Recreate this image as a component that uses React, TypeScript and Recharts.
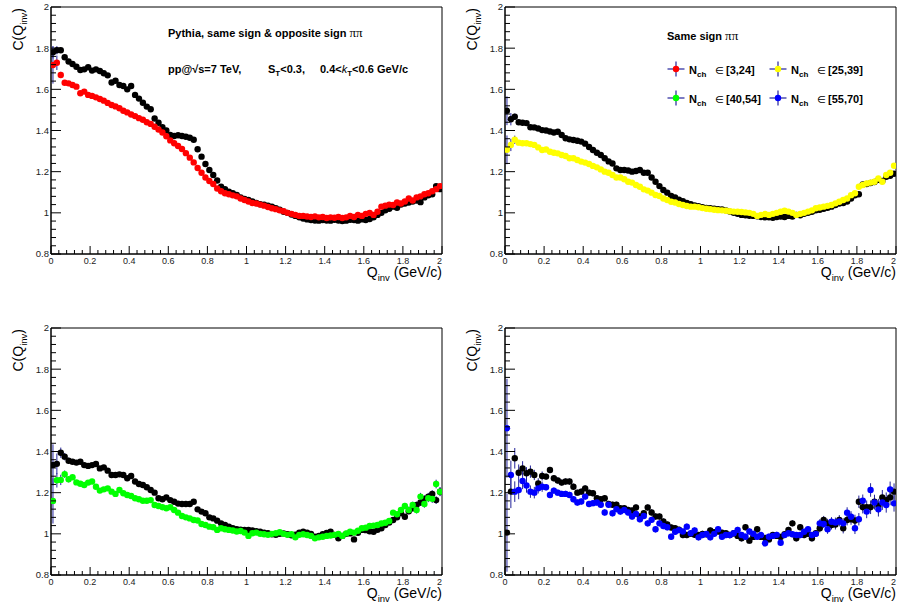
import React from 'react';
import { ScatterChart, Scatter, XAxis, YAxis, ErrorBar, ReferenceArea } from 'recharts';

const FONT = "'Liberation Sans', Arial, Helvetica, sans-serif";
const ERR_COLOR = '#23239a';

// bin centres of Q_inv (GeV/c)
const Q = [
  0.01, 0.03, 0.05, 0.07, 0.09, 0.11, 0.13, 0.15, 0.17, 0.19,
  0.21, 0.23, 0.25, 0.27, 0.29, 0.31, 0.33, 0.35, 0.37, 0.39,
  0.41, 0.43, 0.45, 0.47, 0.49, 0.51, 0.53, 0.55, 0.57, 0.59,
  0.61, 0.63, 0.65, 0.67, 0.69, 0.71, 0.73, 0.75, 0.77, 0.79,
  0.81, 0.83, 0.85, 0.87, 0.89, 0.91, 0.93, 0.95, 0.97, 0.99,
  1.01, 1.03, 1.05, 1.07, 1.09, 1.11, 1.13, 1.15, 1.17, 1.19,
  1.21, 1.23, 1.25, 1.27, 1.29, 1.31, 1.33, 1.35, 1.37, 1.39,
  1.41, 1.43, 1.45, 1.47, 1.49, 1.51, 1.53, 1.55, 1.57, 1.59,
  1.61, 1.63, 1.65, 1.67, 1.69, 1.71, 1.73, 1.75, 1.77, 1.79,
  1.81, 1.83, 1.85, 1.87, 1.89, 1.91, 1.93, 1.95, 1.97, 1.99,
];

const xMajorTicks = [0, 0.2, 0.4, 0.6, 0.8, 1, 1.2, 1.4, 1.6, 1.8, 2];
const yMajorTicks = [0.8, 1, 1.2, 1.4, 1.6, 1.8, 2];

// Top-left: opposite sign (black) vs same sign (red)
const tlBlack = [
  1.78, 1.79, 1.79, 1.756, 1.735, 1.723, 1.71, 1.694, 1.697, 1.707,
  1.691, 1.697, 1.689, 1.678, 1.668, 1.633, 1.642, 1.621, 1.616, 1.6,
  1.616, 1.573, 1.555, 1.535, 1.516, 1.503, 1.458, 1.438, 1.416, 1.4,
  1.378, 1.373, 1.377, 1.373, 1.37, 1.365, 1.355, 1.309, 1.273, 1.237,
  1.208, 1.184, 1.157, 1.127, 1.115, 1.103, 1.095, 1.087, 1.075, 1.068,
  1.062, 1.055, 1.048, 1.042, 1.04, 1.035, 1.03, 1.022, 1.015, 1.005,
  1.0, 0.992, 0.985, 0.978, 0.972, 0.968, 0.965, 0.963, 0.962, 0.965,
  0.963, 0.962, 0.966, 0.963, 0.96, 0.962, 0.966, 0.965, 0.962, 0.968,
  0.965, 0.97, 0.978, 0.99, 1.0, 1.012, 1.02, 1.03, 1.025, 1.04,
  1.045, 1.05, 1.055, 1.06, 1.052, 1.075, 1.085, 1.09, 1.13, 1.115,
];
const tlRed = [
  1.718, 1.729, 1.67, 1.632, 1.629, 1.621, 1.613, 1.581, 1.589, 1.573,
  1.568, 1.561, 1.553, 1.545, 1.534, 1.524, 1.517, 1.508, 1.496, 1.488,
  1.478, 1.47, 1.46, 1.452, 1.44, 1.432, 1.418, 1.405, 1.39, 1.372,
  1.352, 1.338, 1.325, 1.31, 1.29, 1.268, 1.245, 1.218, 1.195, 1.172,
  1.155, 1.14, 1.118, 1.105, 1.095, 1.09, 1.085, 1.08, 1.07, 1.062,
  1.055, 1.048, 1.045, 1.04, 1.035, 1.028, 1.022, 1.018, 1.012, 1.008,
  1.0, 0.995, 0.99, 0.985, 0.985, 0.982, 0.98, 0.983, 0.978, 0.98,
  0.975, 0.978, 0.976, 0.98, 0.975, 0.978, 0.985, 0.98, 0.99, 0.985,
  0.995, 1.0, 0.99, 1.005, 1.03, 1.035, 1.04, 1.038, 1.05, 1.045,
  1.055, 1.07, 1.06, 1.075, 1.08, 1.09, 1.095, 1.105, 1.115, 1.13,
];

// Top-right: black vs N_ch in [25,39] (yellow)
const trBlack = [
  1.496, 1.455, 1.467, 1.44, 1.438, 1.436, 1.416, 1.415, 1.41, 1.402,
  1.4, 1.395, 1.39, 1.394, 1.378, 1.362, 1.357, 1.354, 1.35, 1.346,
  1.336, 1.32, 1.305, 1.292, 1.281, 1.265, 1.25, 1.24, 1.216, 1.208,
  1.208, 1.206, 1.2, 1.203, 1.208, 1.195, 1.195, 1.172, 1.151, 1.13,
  1.111, 1.098, 1.082, 1.075, 1.064, 1.056, 1.048, 1.042, 1.036, 1.032,
  1.027, 1.024, 1.022, 1.02, 1.018, 1.016, 1.012, 1.006, 1.0, 0.995,
  0.99, 0.988, 0.986, 0.985, 0.983, 0.98, 0.978, 0.978, 0.976, 0.98,
  0.982, 0.98, 0.985, 0.982, 0.99, 0.988, 0.995, 1.0, 1.005, 1.012,
  1.015, 1.02, 1.025, 1.03, 1.038, 1.045, 1.048, 1.055, 1.07, 1.085,
  1.09, 1.138, 1.14, 1.145, 1.15, 1.16, 1.155, 1.175, 1.18, 1.19,
];
const trYellow = [
  1.306, 1.33, 1.355, 1.341, 1.338, 1.338, 1.334, 1.33, 1.318, 1.305,
  1.308, 1.297, 1.292, 1.289, 1.281, 1.276, 1.265, 1.265, 1.257, 1.249,
  1.244, 1.237, 1.228, 1.221, 1.211, 1.2, 1.195, 1.184, 1.172, 1.172,
  1.163, 1.151, 1.147, 1.135, 1.127, 1.114, 1.108, 1.098, 1.087, 1.082,
  1.07, 1.062, 1.054, 1.05, 1.043, 1.038, 1.033, 1.03, 1.03, 1.027,
  1.023, 1.02, 1.018, 1.015, 1.013, 1.012, 1.01, 1.008, 1.006, 1.005,
  1.004, 1.002, 1.0, 0.995, 0.985, 0.99, 0.994, 0.99, 0.995, 1.0,
  1.005, 1.01, 1.006, 1.0, 0.99, 0.995, 1.0, 1.006, 1.012, 1.022,
  1.026, 1.03, 1.034, 1.038, 1.046, 1.054, 1.062, 1.07, 1.086, 1.095,
  1.127, 1.135, 1.143, 1.147, 1.151, 1.167, 1.151, 1.184, 1.195, 1.229,
];

// Bottom-left: black vs N_ch in [40,54] (green)
const blBlack = [
  1.335, 1.34, 1.394, 1.375, 1.355, 1.35, 1.346, 1.35, 1.334, 1.33,
  1.334, 1.339, 1.318, 1.323, 1.307, 1.286, 1.286, 1.289, 1.286, 1.27,
  1.281, 1.254, 1.242, 1.237, 1.226, 1.213, 1.2, 1.173, 1.168, 1.177,
  1.164, 1.156, 1.147, 1.145, 1.145, 1.145, 1.156, 1.119, 1.108, 1.1,
  1.08, 1.075, 1.064, 1.051, 1.043, 1.035, 1.027, 1.022, 1.02, 1.019,
  1.019, 1.016, 1.013, 1.01, 1.006, 1.003, 0.998, 0.995, 1.0, 1.002,
  0.998, 0.993, 0.996, 1.005, 1.01, 1.006, 1.0, 0.986, 0.99, 0.998,
  1.004, 1.01, 0.995, 0.978, 0.99, 1.0, 1.002, 0.973, 1.005, 1.019,
  1.018, 1.012, 1.01, 1.02, 1.027, 1.043, 1.055, 1.067, 1.08, 1.1,
  1.083, 1.11, 1.124, 1.14, 1.152, 1.17, 1.181, 1.194, 1.164, 1.205,
];
const blGreen = [
  1.16, 1.26, 1.262, 1.29, 1.265, 1.275, 1.25, 1.243, 1.237, 1.249,
  1.254, 1.229, 1.21, 1.216, 1.221, 1.205, 1.194, 1.213, 1.197, 1.189,
  1.184, 1.173, 1.168, 1.161, 1.161, 1.164, 1.14, 1.135, 1.129, 1.124,
  1.129, 1.116, 1.103, 1.087, 1.08, 1.075, 1.067, 1.065, 1.048, 1.043,
  1.035, 1.032, 1.019, 1.027, 1.022, 1.019, 1.016, 1.011, 1.014, 1.006,
  0.99, 1.003, 1.006, 1.0, 0.998, 0.995, 1.0, 1.003, 1.008, 1.0,
  0.995, 0.998, 0.983, 0.995, 0.998, 0.994, 0.99, 0.978, 0.983, 0.986,
  0.99, 0.992, 0.995, 1.0, 0.99, 1.002, 1.01, 1.006, 1.015, 1.027,
  1.03, 1.038, 1.04, 1.043, 1.05, 1.054, 1.062, 1.103, 1.095, 1.116,
  1.135, 1.116, 1.14, 1.116, 1.181, 1.145, 1.173, 1.17, 1.242, 1.205,
];

// Bottom-right: black vs N_ch in [55,70] (blue)
const brBlack = [
  1.006, 1.205, 1.367, 1.297, 1.318, 1.294, 1.302, 1.286, 1.245, 1.281,
  1.278, 1.31, 1.27, 1.259, 1.249, 1.254, 1.254, 1.229, 1.2, 1.205,
  1.221, 1.2, 1.197, 1.173, 1.168, 1.173, 1.145, 1.141, 1.141, 1.124,
  1.124, 1.116, 1.113, 1.128, 1.084, 1.1, 1.128, 1.104, 1.084, 1.084,
  1.06, 1.045, 1.031, 1.027, 1.02, 0.994, 0.994, 1.0, 0.995, 0.994,
  1.0, 0.998, 1.016, 1.008, 1.011, 1.005, 1.003, 0.994, 1.003, 0.99,
  0.978, 1.032, 0.967, 0.985, 1.022, 0.985, 0.98, 0.973, 0.994, 0.99,
  0.985, 0.998, 1.019, 1.051, 0.978, 1.032, 0.994, 1.0, 0.978, 1.003,
  1.027, 1.067, 1.051, 1.043, 1.045, 1.067, 1.027, 1.067, 1.071, 1.065,
  1.156, 1.129, 1.13, 1.129, 1.156, 1.135, 1.177, 1.164, 1.177, 1.205,
];
const brBlue = [
  1.513, 1.286, 1.205, 1.213, 1.257, 1.235, 1.205, 1.2, 1.221, 1.229,
  1.226, 1.189, 1.21, 1.2, 1.194, 1.194, 1.189, 1.168, 1.152, 1.157,
  1.181, 1.145, 1.149, 1.152, 1.141, 1.104, 1.141, 1.1, 1.12, 1.108,
  1.116, 1.104, 1.084, 1.097, 1.071, 1.087, 1.051, 1.068, 1.022, 1.051,
  1.038, 1.032, 0.986, 1.01, 1.018, 1.011, 1.035, 1.003, 1.016, 0.983,
  0.994, 0.999, 0.983, 1.0, 1.022, 0.986, 0.994, 0.994, 1.003, 1.019,
  0.994, 0.986, 1.011, 1.0, 0.986, 0.994, 0.954, 0.986, 0.99, 0.995,
  0.957, 0.994, 1.003, 0.998, 0.994, 0.994, 1.01, 1.022, 0.994, 1.0,
  1.051, 1.048, 1.022, 1.059, 1.055, 1.06, 1.051, 1.103, 1.083, 1.027,
  1.071, 1.161, 1.108, 1.213, 1.152, 1.119, 1.152, 1.14, 1.216, 1.148,
];

// statistical errors: leading bins, typical value, trailing bins
const tlBlackErr = { lead: [0.03, 0.02, 0.012], mid: 0.005, tail: [] as number[] };
const tlRedErr = { lead: [0.09, 0.035, 0.015], mid: 0.005, tail: [] as number[] };
const trBlackErr = { lead: [0.07, 0.03, 0.015, 0.012], mid: 0.006, tail: [] as number[] };
const trYellowErr = { lead: [0.07, 0.03, 0.02, 0.012], mid: 0.006, tail: [] as number[] };
const blBlackErr = { lead: [0.1, 0.05, 0.025, 0.018, 0.015], mid: 0.008, tail: [0.014, 0.015, 0.015, 0.016, 0.016, 0.017, 0.018, 0.018, 0.019, 0.02] };
const blGreenErr = { lead: [0.11, 0.035, 0.025, 0.018, 0.015], mid: 0.008, tail: [0.015, 0.016, 0.016, 0.017, 0.018, 0.018, 0.019, 0.02, 0.021, 0.022] };
const brBlackErr = {
  lead: [0.19, 0.08, 0.05, 0.04, 0.035, 0.03, 0.03, 0.025, 0.025, 0.022],
  mid: 0.015,
  tail: [0.02, 0.02, 0.022, 0.022, 0.024, 0.024, 0.025, 0.026, 0.027, 0.028, 0.03, 0.03, 0.032, 0.033, 0.034, 0.035, 0.036, 0.037, 0.038, 0.04],
};
const brBlueErr = {
  lead: [0.24, 0.07, 0.05, 0.045, 0.04, 0.035, 0.03, 0.028, 0.025, 0.025],
  mid: 0.015,
  tail: [0.02, 0.02, 0.022, 0.022, 0.024, 0.024, 0.025, 0.026, 0.027, 0.028, 0.03, 0.03, 0.032, 0.033, 0.034, 0.035, 0.036, 0.037, 0.038, 0.04],
};

const nchRanges = ['[3,24]', '[25,39]', '[40,54]', '[55,70]'];
const nchColors = ['#ff0000', '#ffff00', '#00ff00', '#0000ff'];

type Err = { lead: number[]; mid: number; tail: number[] };
function buildRows(vals: number[], err: Err) {
  const n = Q.length;
  return Q.map((x, i) => ({
    x,
    y: vals[i],
    e: i < err.lead.length ? err.lead[i] : i >= n - err.tail.length ? err.tail[i - (n - err.tail.length)] : err.mid,
  }));
}

function subdivide(major: number[], n: number) {
  const out: number[] = [];
  for (let i = 0; i < major.length - 1; i++) {
    const a = major[i];
    const b = major[i + 1];
    for (let k = 0; k < n; k++) out.push(+(a + ((b - a) * k) / n).toFixed(4));
  }
  out.push(major[major.length - 1]);
  return out;
}
const xTicks = subdivide(xMajorTicks, 5);
const yTicks = subdivide(yMajorTicks, 5);

const isMajorIn = (v: number, majors: number[]) => majors.some((m) => Math.abs(m - v) < 1e-6);
const fmt = (v: number) => String(+v.toFixed(2));
const X_LAST = xMajorTicks[xMajorTicks.length - 1];

const XTick = (props: any) => {
  const { x, y, payload } = props;
  const v = payload.value as number;
  const major = isMajorIn(v, xMajorTicks);
  const isLast = Math.abs(v - X_LAST) < 1e-6;
  return (
    <g>
      <line x1={x} x2={x} y1={y} y2={y - (major ? 8 : 4)} stroke="#000" strokeWidth={1} />
      {major && (
        <text
          x={isLast ? x : x}
          y={y + 9.5}
          textAnchor={isLast ? 'end' : 'middle'}
          fontSize={9}
          fill="#222"
          fontFamily={FONT}
        >
          {fmt(v)}
        </text>
      )}
    </g>
  );
};

const YTick = (props: any) => {
  const { x, y, payload } = props;
  const v = payload.value as number;
  const major = isMajorIn(v, yMajorTicks);
  return (
    <g>
      <line x1={x} x2={x + (major ? 10 : 5)} y1={y} y2={y} stroke="#000" strokeWidth={1} />
      {major && (
        <text x={x - 2} y={y + 3.4} textAnchor="end" fontSize={9.5} fill="#222" fontFamily={FONT}>
          {fmt(v)}
        </text>
      )}
    </g>
  );
};

const dot = (color: string) => (props: any) =>
  <circle cx={props.cx} cy={props.cy} r={3.2} fill={color} stroke="none" />;

type PanelProps = {
  left: number;
  top: number;
  refRows: { x: number; y: number; e: number }[];
  selRows: { x: number; y: number; e: number }[];
  color: string;
};

function Panel({ left, top, refRows, selRows, color }: PanelProps) {
  return (
    <div style={{ position: 'absolute', left, top }}>
      <ScatterChart width={448} height={287} margin={{ top: 7, right: 6, bottom: 0, left: 0 }}>
        <XAxis
          type="number"
          dataKey="x"
          domain={[0, 2]}
          ticks={xTicks}
          interval={0}
          tickSize={0}
          tickMargin={0}
          tickLine={false}
          tick={(p: any) => <XTick {...p} />}
          axisLine={{ stroke: '#000' }}
          height={33}
          allowDataOverflow
        />
        <YAxis
          type="number"
          dataKey="y"
          domain={[0.8, 2]}
          ticks={yTicks}
          interval={0}
          tickSize={0}
          tickMargin={0}
          tickLine={false}
          tick={(p: any) => <YTick {...p} />}
          axisLine={{ stroke: '#000' }}
          width={51}
          allowDataOverflow
        />
        <ReferenceArea x1={0} x2={2} y1={0.8} y2={2} fill="none" fillOpacity={0} stroke="#000" strokeWidth={1} />
        <Scatter data={refRows} isAnimationActive={false} shape={dot('#000000')}>
          <ErrorBar dataKey="e" direction="y" width={0} stroke={ERR_COLOR} strokeWidth={1} isAnimationActive={false} />
        </Scatter>
        <Scatter data={selRows} isAnimationActive={false} shape={dot(color)}>
          <ErrorBar dataKey="e" direction="y" width={0} stroke={ERR_COLOR} strokeWidth={1} isAnimationActive={false} />
        </Scatter>
      </ScatterChart>
    </div>
  );
}

const panels = [
  { left: 0, top: 0, refRows: buildRows(tlBlack, tlBlackErr), selRows: buildRows(tlRed, tlRedErr), color: nchColors[0] },
  { left: 454, top: 0, refRows: buildRows(trBlack, trBlackErr), selRows: buildRows(trYellow, trYellowErr), color: nchColors[1] },
  { left: 0, top: 321, refRows: buildRows(blBlack, blBlackErr), selRows: buildRows(blGreen, blGreenErr), color: nchColors[2] },
  { left: 454, top: 321, refRows: buildRows(brBlack, brBlackErr), selRows: buildRows(brBlue, brBlueErr), color: nchColors[3] },
];

const legendPos = [
  { mx: 676, my: 69, tx: 689 },
  { mx: 778, my: 69, tx: 791 },
  { mx: 676, my: 98, tx: 689 },
  { mx: 778, my: 98, tx: 791 },
];

const PI_FONT = "'Liberation Serif', 'DejaVu Serif', serif";

export default function App() {
  return (
    <div
      style={{
        position: 'absolute',
        left: 0,
        top: 0,
        width: 897,
        height: 608,
        background: '#fff',
        overflow: 'hidden',
        fontFamily: FONT,
      }}
    >
      {panels.map((p, i) => (
        <Panel key={i} {...p} />
      ))}
      <svg
        width={897}
        height={608}
        style={{ position: 'absolute', left: 0, top: 0, pointerEvents: 'none' }}
        fontFamily={FONT}
      >
        {panels.map((p, i) => (
          <g key={i} transform={`translate(${p.left},${p.top})`}>
            <text x={442} y={277} textAnchor="end" fontSize={14} fill="#000">
              Q<tspan fontSize={9.5} dy={4}>inv</tspan>
              <tspan dy={-4}> (GeV/c)</tspan>
            </text>
            <text transform="translate(22.5,8) rotate(-90)" textAnchor="end" fontSize={14} fill="#000">
              C(Q<tspan fontSize={9.5} dy={4}>inv</tspan>
              <tspan dy={-4}>)</tspan>
            </text>
          </g>
        ))}

        {/* top-left annotations */}
        <text x={168} y={37} fontSize={11} fontWeight="bold" fill="#000">
          Pythia, same sign &amp; opposite sign{' '}
          <tspan fontFamily={PI_FONT} fontWeight="normal" fontSize={13}>
            ππ
          </tspan>
        </text>
        <text x={168} y={73} fontSize={11} fontWeight="bold" fill="#000">
          pp@√s=7 TeV,
        </text>
        <text x={268} y={73} fontSize={11} fontWeight="bold" fill="#000">
          S<tspan fontSize={8} dy={3}>T</tspan>
          <tspan dy={-3}>&lt;0.3,</tspan>
        </text>
        <text x={320} y={73} fontSize={11} fontWeight="bold" fill="#000">
          0.4&lt;<tspan fontStyle="italic" fontWeight="normal">k</tspan>
          <tspan fontSize={8} dy={3}>T</tspan>
          <tspan dy={-3}>&lt;0.6 GeV/c</tspan>
        </text>

        {/* top-right legend */}
        <text x={667} y={40} fontSize={11} fontWeight="bold" fill="#000">
          Same sign{' '}
          <tspan fontFamily={PI_FONT} fontWeight="normal" fontSize={13}>
            ππ
          </tspan>
        </text>
        {legendPos.map((lp, i) => (
          <g key={i}>
            <line x1={lp.mx - 8.5} x2={lp.mx + 8.5} y1={lp.my} y2={lp.my} stroke={ERR_COLOR} strokeWidth={1.2} />
            <line x1={lp.mx} x2={lp.mx} y1={lp.my - 7.5} y2={lp.my + 7.5} stroke={ERR_COLOR} strokeWidth={1.2} />
            <circle cx={lp.mx} cy={lp.my} r={3.2} fill={nchColors[i]} />
            <text x={lp.tx} y={lp.my + 5} fontSize={11} fontWeight="bold" fill="#000">
              N<tspan fontSize={8} dy={3}>ch</tspan>
            </text>
            <text x={lp.tx + 26} y={lp.my + 5} fontSize={10} fill="#000" fontFamily="'DejaVu Sans', sans-serif">
              ∈
            </text>
            <text x={lp.tx + 37} y={lp.my + 5} fontSize={11} fontWeight="bold" fill="#000">
              {nchRanges[i]}
            </text>
          </g>
        ))}
      </svg>
    </div>
  );
}
